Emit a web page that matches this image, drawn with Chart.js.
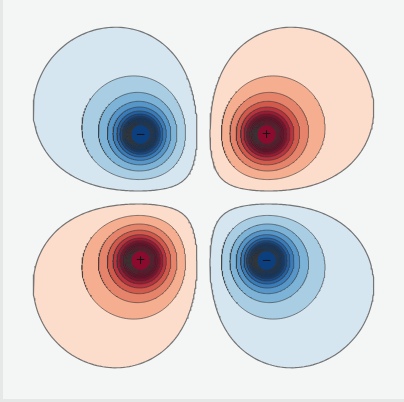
<!DOCTYPE html>
<html>
<head>
<meta charset="utf-8">
<script src="https://cdn.jsdelivr.net/npm/chart.js@4.4.1/dist/chart.umd.min.js"></script>
<style>
  html, body { margin: 0; padding: 0; background: #f4f5f5; }
  canvas { display: block; }
</style>
</head>
<body>
<canvas id="field" width="404" height="402"></canvas>
<script>
// Four point charges of a quadrupole (positions in plot units, signed charge)
const chargeX = [1, -1, -1, 1];
const chargeY = [1, 1, -1, -1];
const chargeQ = [1, -1, 1, -1];
const chargeLabels = ['+', '\u2212', '+', '\u2212'];

// Equipotential levels (absolute value), drawn on each side of zero
const levels = [0.19, 0.57, 0.95, 1.33, 1.71, 2.09, 2.47, 2.85,
                3.23, 3.61, 3.99, 4.37, 4.75, 5.13, 5.51, 5.89];

// Band fill colours, outermost band first
const redFills = ['#fcdccb', '#f5ae90', '#e5846b', '#d15a4c', '#b8333e', '#9c1b33',
                  '#82102b', '#730a26', '#6e0824', '#760926', '#7c0a28', '#800a29',
                  '#830a2a', '#860b2b', '#880b2c', '#8a0b2d'];
const blueFills = ['#d6e6f1', '#a9cde3', '#7cb3d7', '#5796c9', '#3a7cb9', '#2461a2',
                   '#174a87', '#103d74', '#0c376b', '#0c386e', '#0c3a72', '#0c3b75',
                   '#0c3c78', '#0c3d7a', '#0c3e7c', '#0c3f7e'];

const xRange = [-3.230, 3.183];
const yRange = [-3.246, 3.135];

function potential(x, y) {
  let v = 0;
  for (let i = 0; i < chargeX.length; i++) {
    v += chargeQ[i] / Math.hypot(x - chargeX[i], y - chargeY[i]);
  }
  return v;
}

// Trace one equipotential loop around charge i by marching outward along rays
function traceLoop(i, level, steps) {
  const cx = chargeX[i], cy = chargeY[i], s = Math.sign(chargeQ[i]);
  const pts = [];
  for (let a = 0; a <= steps; a++) {
    const t = (a % steps) / steps * Math.PI * 2;
    const c = Math.cos(t), sn = Math.sin(t);
    const val = r => s * potential(cx + r * c, cy + r * sn);
    let lo = 0.003, hi = lo;
    while (val(hi) >= level && hi < 10) { lo = hi; hi *= 1.04; }
    for (let k = 0; k < 30; k++) {
      const mid = 0.5 * (lo + hi);
      if (val(mid) >= level) lo = mid; else hi = mid;
    }
    const r = 0.5 * (lo + hi);
    pts.push({ x: cx + r * c, y: cy + r * sn });
  }
  return pts;
}

const datasets = [];
for (let i = 0; i < chargeX.length; i++) {
  const fills = chargeQ[i] > 0 ? redFills : blueFills;
  levels.forEach((lv, k) => {
    datasets.push({
      data: traceLoop(i, lv, 240),
      showLine: true,
      fill: 'shape',
      backgroundColor: fills[k],
      borderColor: k === 0 ? 'rgba(95,95,95,0.85)' : 'rgba(55,55,55,0.6)',
      borderWidth: k === 0 ? 1.2 : 1,
      pointRadius: 0,
      tension: 0,
      order: -k
    });
  });
}

const frame = {
  id: 'frame',
  beforeDraw(chart) {
    const ctx = chart.ctx;
    ctx.save();
    ctx.fillStyle = '#f4f5f5';
    ctx.fillRect(0, 0, chart.width, chart.height);
    ctx.fillStyle = '#e6e7e7';
    ctx.fillRect(0, 0, 3, chart.height);
    ctx.fillRect(0, chart.height - 3, chart.width, 3);
    ctx.restore();
  }
};

const chargeMarks = {
  id: 'chargeMarks',
  afterDatasetsDraw(chart) {
    const ctx = chart.ctx;
    const xs = chart.scales.x, ys = chart.scales.y;
    ctx.save();
    ctx.fillStyle = '#141414';
    ctx.font = '12px "DejaVu Sans", sans-serif';
    ctx.textAlign = 'center';
    ctx.textBaseline = 'middle';
    chargeLabels.forEach((lab, i) => {
      ctx.fillText(lab, xs.getPixelForValue(chargeX[i]), ys.getPixelForValue(chargeY[i]));
    });
    ctx.restore();
  }
};

new Chart(document.getElementById('field'), {
  type: 'scatter',
  data: { datasets },
  options: {
    responsive: false,
    devicePixelRatio: 1,
    animation: false,
    events: [],
    layout: { padding: 0 },
    plugins: { legend: { display: false }, tooltip: { enabled: false } },
    scales: {
      x: { type: 'linear', min: xRange[0], max: xRange[1], display: false },
      y: { type: 'linear', min: yRange[0], max: yRange[1], display: false }
    }
  },
  plugins: [frame, chargeMarks]
});
</script>
</body>
</html>
